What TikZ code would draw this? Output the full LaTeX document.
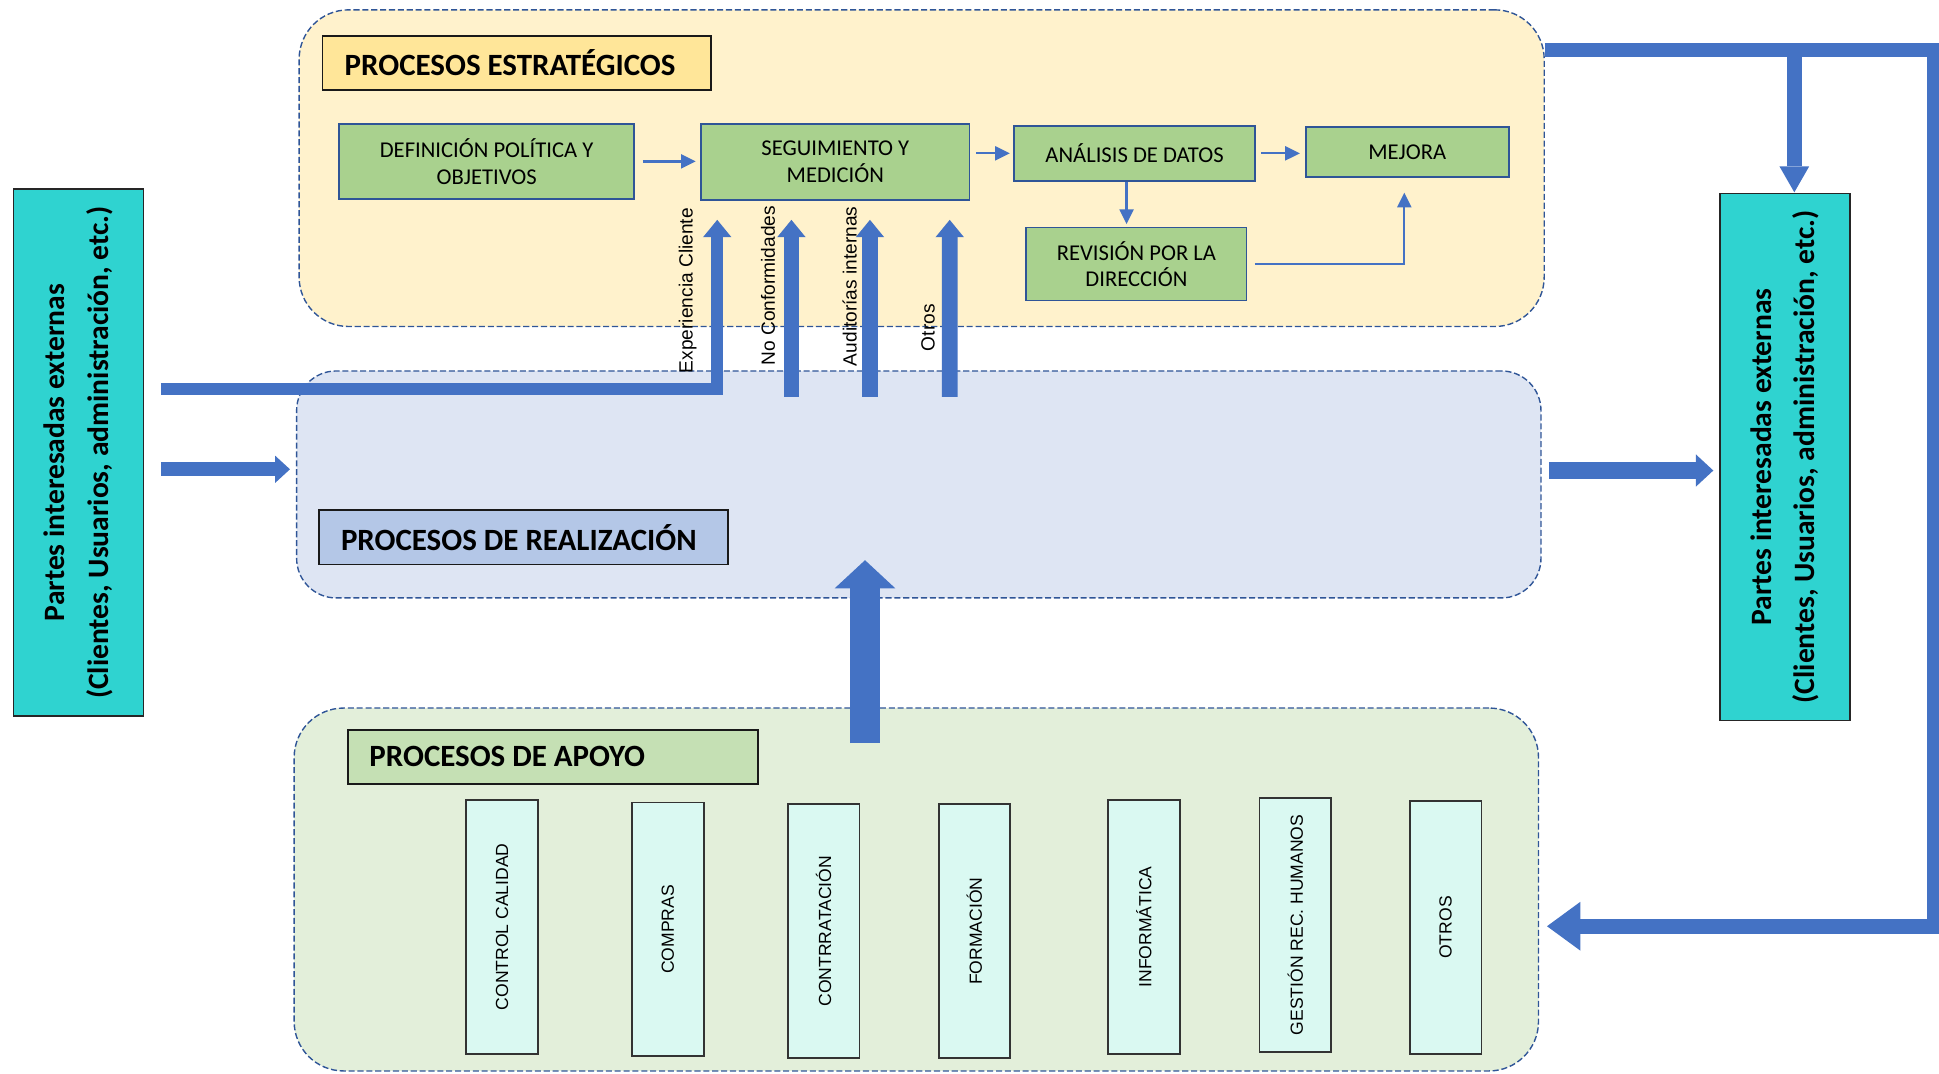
\documentclass[tikz,border=0pt]{standalone}
\usepackage{fontspec}
\setmainfont{Carlito}
\newfontfamily\arialfam{Liberation Sans}
\usetikzlibrary{arrows.meta,calc}

\definecolor{arrowblue}{HTML}{4472C4}
\definecolor{frameblue}{HTML}{2F5597}
\definecolor{stratfill}{HTML}{FFF2CC}
\definecolor{realfill}{HTML}{DEE5F3}
\definecolor{suppfill}{HTML}{E3EFDA}
\definecolor{strattitle}{HTML}{FFE699}
\definecolor{realtitle}{HTML}{B4C7E7}
\definecolor{supptitle}{HTML}{C5E0B4}
\definecolor{procgreen}{HTML}{A9D18E}
\definecolor{auxfill}{HTML}{DAF9F2}
\definecolor{partyfill}{HTML}{2FD3D0}

\newcommand\fprocs{\fontsize{13}{15.3}\selectfont}
\newcommand\ftitle{\fontsize{17.8}{20}\selectfont\bfseries}
\newcommand\faux{\arialfam\fontsize{10.1}{12}\selectfont}
\newcommand\fparty{\fontsize{17}{25}\selectfont\bfseries}
\newcommand\fflow{\arialfam\fontsize{11}{13}\selectfont}

\begin{document}
\begin{tikzpicture}[x=0.025cm, y=-0.025cm,
  container/.style={draw=frameblue, line width=0.8pt, dash pattern=on 3.5pt off 1.6pt, inner sep=0pt},
  titlebox/.style={draw=black!90, line width=1.1pt, font=\ftitle, anchor=west,
    inner xsep=0.45cm, inner ysep=0pt, minimum height=1.1cm},
  procbox/.style={draw=frameblue, fill=procgreen, line width=1.1pt, font=\fprocs, align=flush center, inner sep=0pt},
  auxbox/.style={draw=black!80, fill=auxfill, line width=1.1pt, rotate=90, font=\faux, inner sep=0pt,
    minimum width=5.125cm, minimum height=1.45cm},
  partybox/.style={draw=black!85, fill=partyfill, line width=0.9pt, rotate=90, align=flush center, font=\fparty,
    inner sep=0pt, minimum width=10.65cm, minimum height=2.625cm},
  flowlabel/.style={rotate=90, font=\fflow, inner sep=0pt},
  thinarrow/.style={draw=arrowblue, line width=1.3pt, -{Triangle[length=8.5pt,width=8pt]}},
  blockarrow/.style 2 args={draw=arrowblue, line join=miter, -{Triangle[length=#1,width=#2,line width=0pt 0 0]}}
]
\useasboundingbox (0,0) rectangle (1568,868);

% process areas
\node[container, fill=stratfill, rounded corners=1cm, minimum width=25.165cm, minimum height=6.4cm] (strat) at (745.3,136) {};
\node[container, fill=realfill, rounded corners=0.8cm, minimum width=25.15cm, minimum height=4.5875cm] (real) at (743,391.75) {};
\node[container, fill=suppfill, rounded corners=1cm, minimum width=25.15cm, minimum height=7.335cm] (supp) at (741,719.3) {};

% area titles
\node[titlebox, fill=strattitle] (tstrat) at (260,51) {\makebox[6.95cm][l]{PROCESOS ESTRATÉGICOS}};
\node[titlebox, fill=realtitle] (treal) at (257,434.5) {\makebox[7.375cm][l]{PROCESOS DE REALIZACIÓN}};
\node[titlebox, fill=supptitle, inner xsep=0.425cm] (tsupp) at (281,612) {\makebox[7.425cm][l]{PROCESOS DE APOYO}};

% strategic processes
\node[procbox, minimum width=5.975cm, minimum height=1.525cm] (def) at (393.5,130.5) {DEFINICIÓN POLÍTICA Y\\OBJETIVOS};
\node[procbox, minimum width=5.425cm, minimum height=1.55cm] (seg) at (675.5,131) {SEGUIMIENTO Y\\MEDICIÓN};
\node[procbox, minimum width=4.875cm, minimum height=1.1cm] (ana) at (917.5,124) {ANÁLISIS DE DATOS};
\node[procbox, minimum width=4.1cm, minimum height=1.0cm] (mej) at (1138,123) {MEJORA};
\node[procbox, minimum width=4.45cm, minimum height=1.475cm] (rev) at (919,213.5) {REVISIÓN POR LA\\DIRECCIÓN};

% support processes
\node[auxbox] (cc) at (406,749.5) {CONTROL CALIDAD};
\node[auxbox] (com) at (540,751.5) {COMPRAS};
\node[auxbox] (con) at (666,753) {CONTRRATACIÓN};
\node[auxbox] (for) at (788,753) {FORMACIÓN};
\node[auxbox] (inf) at (925,749.5) {INFORMÁTICA};
\node[auxbox] (rrhh) at (1047.5,748) {GESTIÓN REC. HUMANOS};
\node[auxbox] (otr) at (1169,750) {OTROS};

% external stakeholders
\node[partybox] (pl) at (63.5,366) {Partes interesadas externas\\(Clientes,  Usuarios, administración, etc.)};
\node[partybox] (pr) at (1443.5,369.5) {Partes interesadas externas\\(Clientes,  Usuarios, administración, etc.)};

% flow inside the strategic area
\draw[thinarrow, shorten <=4.3pt, shorten >=2.5pt] (def.east) -- (def.east -| seg.west);
\draw[thinarrow, shorten <=3.3pt, shorten >=1.8pt] (seg.east |- ana.west) -- (ana.west);
\draw[thinarrow, shorten <=2.8pt, shorten >=2.8pt] (ana.east) -- (ana.east -| mej.west);
\draw[thinarrow, shorten >=1.4pt] ([xshift=-0.1625cm]ana.south) -- ([xshift=-0.1625cm]ana.south |- rev.north);
\draw[thinarrow, shorten <=4.3pt, shorten >=8.5pt] (rev.east) -| ([xshift=-0.06cm]mej.south);

% feedback arrows into monitoring
\coordinate (fromL1) at (130,314.5);
\coordinate (nc0) at (640,321);
\coordinate (aud0) at (703.5,321);
\coordinate (otr0) at (768,321);
\draw[blockarrow={10pt}{16.4pt}, line width=6.8pt] (fromL1) -| ($(seg.south)+(-95.5,15)$);
\draw[blockarrow={10pt}{16.4pt}, line width=9pt] (nc0) -- ($(seg.south)+(-35.5,15)$);
\draw[blockarrow={10pt}{16.4pt}, line width=9pt] (aud0) -- ($(seg.south)+(28,15)$);
\draw[blockarrow={10pt}{16.4pt}, line width=9pt] (otr0) -- ($(seg.south)+(92.5,15)$);

% main flow
\coordinate (fromL2) at (130,379.5);
\coordinate (toReal) at (234.5,379.5);
\draw[blockarrow={8.5pt}{15.6pt}, line width=8.2pt] (fromL2) -- (toReal);

\coordinate (upfrom) at (699.5,601);
\coordinate (upto) at (699.5,453);
\draw[blockarrow={16.2pt}{34.9pt}, line width=17.8pt] (upfrom) -- (upto);

\coordinate (outR) at (1252.6,380.5);
\coordinate (toR) at (1385.5,380.5);
\draw[blockarrow={10pt}{18.5pt}, line width=9.6pt] (outR) -- (toR);

% improvement loop on the right
\coordinate (busfrom) at (1249,40.5);
\coordinate (busTR) at (1564.5,40.5);
\coordinate (busBR) at (1564.5,749);
\coordinate (suppin) at (1251,749);
\draw[blockarrow={19.2pt}{28.1pt}, line width=8.4pt] (busfrom) -- (busTR) -- (busBR) -- (suppin);
\coordinate (branch) at (1451,40.5);
\coordinate (toRtop) at (1451,155.5);
\draw[blockarrow={14.9pt}{17.1pt}, line width=8.5pt] (branch) -- (toRtop);

% labels of the feedback arrows
\node[flowlabel] (lexp) at (556,235) {Experiencia Cliente};
\node[flowlabel] (lnc) at (621,231) {No Conformidades};
\node[flowlabel] (laud) at (687,231.5) {Auditorías internas};
\node[flowlabel] (lotr) at (750.5,265) {Otros};
\end{tikzpicture}
\end{document}
